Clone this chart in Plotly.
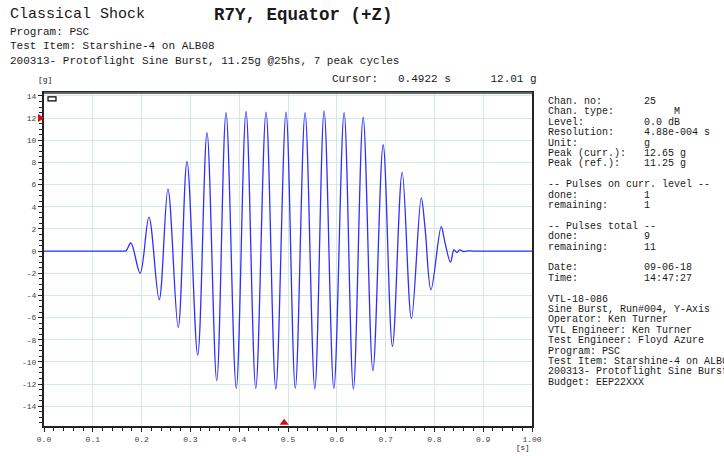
import plotly.graph_objects as go

# ---- waveform extrema (time [s], acceleration [g]) ----
t_s = [0.000, 0.040, 0.080, 0.120, 0.150, 0.162, 0.168, 0.178, 0.197, 0.215,
       0.236, 0.254, 0.275, 0.293, 0.315, 0.334, 0.354, 0.373, 0.394, 0.414,
       0.434, 0.455, 0.475, 0.496, 0.515, 0.535, 0.555, 0.574, 0.594, 0.615,
       0.634, 0.654, 0.674, 0.695, 0.714, 0.734, 0.753, 0.773, 0.781, 0.793,
       0.814, 0.821, 0.833, 0.840, 0.846, 0.852, 0.860, 0.870, 0.880, 0.920,
       0.960, 1.000]
acc_g = [0.00, 0.00, 0.00, 0.00, 0.00, 0.00, 0.02, 0.73, -2.00, 3.06,
         -4.40, 5.60, -6.90, 8.10, -9.40, 10.70, -11.70, 12.50, -12.40, 12.60,
         -12.40, 12.55, -12.45, 12.55, -12.40, 12.50, -12.45, 12.65, -12.40, 12.50,
         -12.45, 12.10, -10.80, 9.60, -8.60, 7.10, -6.10, 4.80, 2.00, -3.50,
         2.20, 0.90, -1.00, 0.10, -0.12, 0.10, -0.04, 0.02, 0.00, 0.00,
         0.00, 0.00]

cursor_t = 0.4922
cursor_g = 12.01

x_ticks = [0.0, 0.1, 0.2, 0.3, 0.4, 0.5, 0.6, 0.7, 0.8, 0.9, 1.0]
x_ticklabels = ["0.0", "0.1", "0.2", "0.3", "0.4", "0.5", "0.6", "0.7", "0.8", "0.9", "1.00"]
y_ticks = [-14, -12, -10, -8, -6, -4, -2, 0, 2, 4, 6, 8, 10, 12, 14]
y_ticklabels = ["-14", "-12", "-10", "-8", "-6", "-4", "-2", "0", "2", "4", "6", "8", "10", "12", "14"]

header_lines = ["Program: PSC",
                "Test Item: Starshine-4 on ALB08",
                "200313- Protoflight Sine Burst, 11.25g @25hs, 7 peak cycles"]

info_blocks = [
    [("Chan. no:", "25"), ("Chan. type:", "     M"), ("Level:", "0.0 dB"),
     ("Resolution:", "4.88e-004 s"), ("Unit:", "g"),
     ("Peak (curr.):", "12.65 g"), ("Peak (ref.):", "11.25 g")],
    [("-- Pulses on curr. level --", ""), ("done:", "1"), ("remaining:", "1")],
    [("-- Pulses total --", ""), ("done:", "9"), ("remaining:", "11")],
    [("Date:", "09-06-18"), ("Time:", "14:47:27")],
    [("VTL-18-086", ""), ("Sine Burst, Run#004, Y-Axis", ""),
     ("Operator: Ken Turner", ""), ("VTL Engineer: Ken Turner", ""),
     ("Test Engineer: Floyd Azure", ""), ("Program: PSC", ""),
     ("Test Item: Starshine-4 on ALB08", ""),
     ("200313- Protoflight Sine Burst, 11.25g @25hs, 7 peak cycles", ""),
     ("Budget: EEP22XXX", "")],
]

# ---- page geometry (pixels) ----
W, H = 724, 456
L, R, T, B = 44, 192, 93, 27
PW, PH = W - L - R, H - T - B
Y_RANGE = [-15.79, 14.27]

FONT = "Liberation Mono"
INK = "#1a1a1a"


def to_paper(px, py):
    return (px - L) / PW, (H - B - py) / PH


annotations = []


def put_text(px, py, s, size, bold=False, xanchor="left", color=INK):
    xp, yp = to_paper(px, py)
    annotations.append(dict(
        x=xp, y=yp, xref="paper", yref="paper", xanchor=xanchor, yanchor="middle",
        text=f"<b>{s}</b>" if bold else s, showarrow=False,
        font=dict(family=FONT, size=size, color=color)))


# header
put_text(8, 14, "Classical Shock", 15)
put_text(212, 14, "R7Y, Equator (+Z)", 17.5, bold=True)
for i, line in enumerate(header_lines):
    put_text(8, 31 + 15 * i, line.replace(" ", "&nbsp;"), 11)

put_text(36, 79, "[g]", 8)
put_text(330, 79, "Cursor:   {:.4f} s      {:.2f} g".format(cursor_t, cursor_g).replace(" ", "&nbsp;"), 11)
put_text(514, 451, "[s]", 7.5)

# right-hand information panel, one blank row between blocks
row = 0
line_step = 10.5
for block in info_blocks:
    for label, value in block:
        s = label if not value else label.ljust(16) + value
        put_text(546, 101.5 + row * line_step, s.replace(" ", "&nbsp;"), 10)
        row += 1
    row += 1

fig = go.Figure()
fig.add_trace(go.Scatter(
    x=t_s, y=acc_g, mode="lines",
    line=dict(color="#2f2fff", width=1.3, shape="spline", smoothing=1.0),
    hoverinfo="skip", showlegend=False))

# cursor marker under the time axis
fig.add_trace(go.Scatter(
    x=[cursor_t], y=[Y_RANGE[0] + 0.3], mode="markers", cliponaxis=False,
    marker=dict(symbol="triangle-up", size=8, color="#d01010"),
    showlegend=False, hoverinfo="skip"))

# cursor marker beside the g axis (paper x, data y)
xa, _ = to_paper(38, 0)
xb, _ = to_paper(44.5, 0)
half = 4 / (PH / (Y_RANGE[1] - Y_RANGE[0]))
shapes = [dict(type="path", xref="paper", yref="y",
               path=f"M {xa},{cursor_g - half} L {xa},{cursor_g + half} L {xb},{cursor_g} Z",
               fillcolor="#d01010", line=dict(color="#d01010", width=0))]

# small marker box in the top-left corner of the plot
x0, y0 = to_paper(48, 97)
x1, y1 = to_paper(56, 101)
shapes.append(dict(type="rect", xref="paper", yref="paper", x0=x0, x1=x1, y0=y1, y1=y0,
                   line=dict(color="black", width=1.2), fillcolor="white"))
# grey top edge of the frame
shapes.append(dict(type="line", xref="paper", yref="paper", x0=0, x1=1, y0=1, y1=1,
                   line=dict(color="#666", width=2)))

grid_col = "#d3e9e2"
fig.update_layout(
    width=W, height=H,
    margin=dict(l=L, r=R, t=T, b=B, pad=0),
    paper_bgcolor="white", plot_bgcolor="white",
    annotations=annotations, shapes=shapes,
    xaxis=dict(range=[0, 1.0], tickmode="array", tickvals=x_ticks, ticktext=x_ticklabels,
               showgrid=True, gridcolor=grid_col, gridwidth=1, zeroline=False,
               showline=True, linecolor="#222", linewidth=2, mirror=True,
               ticks="outside", ticklen=4, tickcolor="#222", tickwidth=1,
               minor=dict(tickmode="linear", tick0=0, dtick=0.02, ticks="outside",
                          ticklen=3, tickcolor="#222", showgrid=False),
               tickfont=dict(family=FONT, size=8, color="#444")),
    yaxis=dict(range=Y_RANGE, tickmode="array", tickvals=y_ticks, ticktext=y_ticklabels,
               showgrid=True, gridcolor=grid_col, gridwidth=1, zeroline=False,
               showline=True, linecolor="#222", linewidth=2, mirror=True,
               ticks="outside", ticklen=4, tickcolor="#222", tickwidth=1,
               minor=dict(tickmode="linear", tick0=0, dtick=0.5, ticks="outside",
                          ticklen=3, tickcolor="#222", showgrid=False),
               tickfont=dict(family=FONT, size=8, color="#444")),
)

fig.write_html("out.html")
